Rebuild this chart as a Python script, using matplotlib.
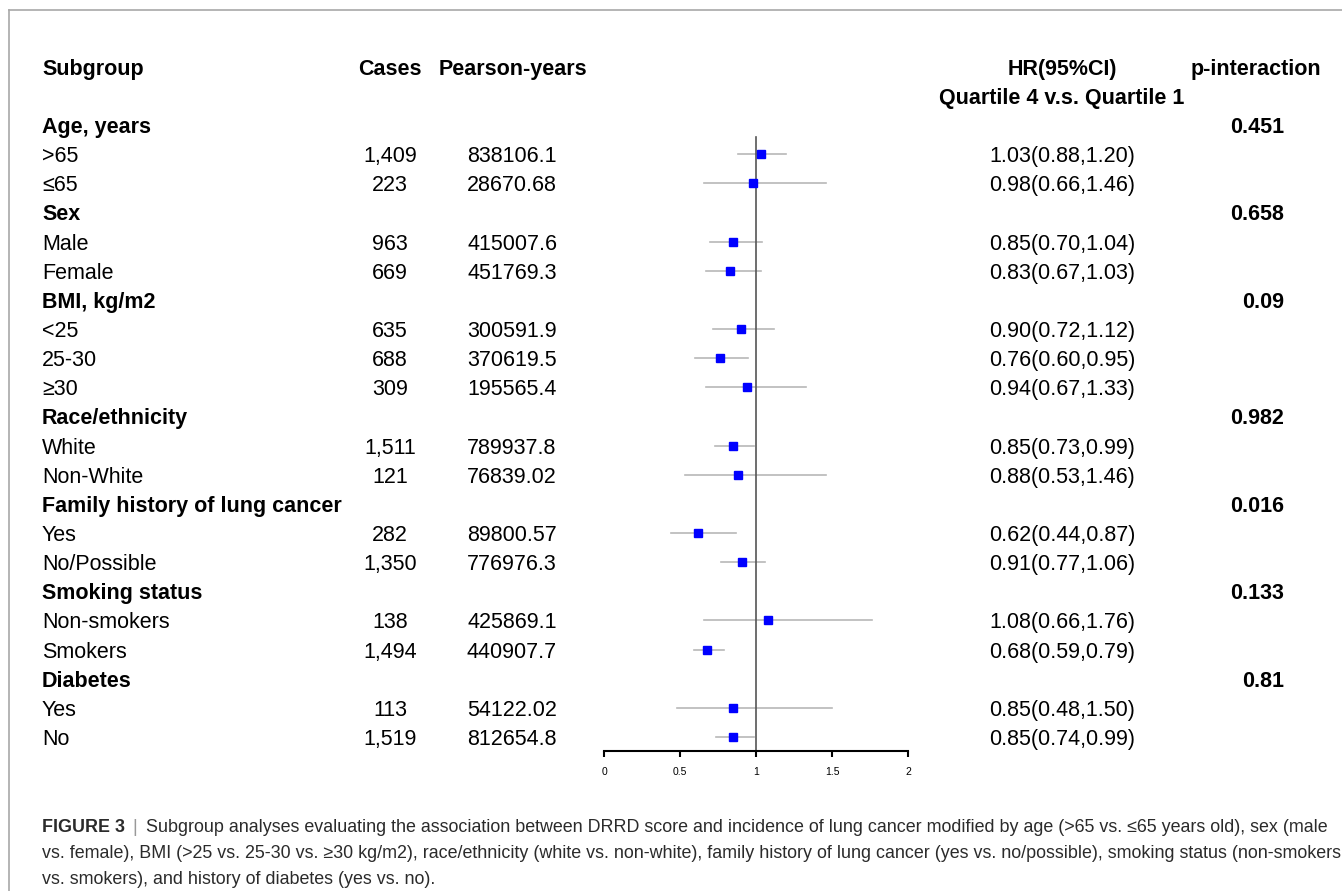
import matplotlib
matplotlib.use("Agg")
import matplotlib.pyplot as plt
from matplotlib.lines import Line2D
from matplotlib.transforms import blended_transform_factory

plt.rcParams['font.family'] = ['Liberation Sans', 'DejaVu Sans']

# table rows (group headers have no numbers)
labels = ["Age, years", ">65", "≤65",
          "Sex", "Male", "Female",
          "BMI, kg/m2", "<25", "25-30", "≥30",
          "Race/ethnicity", "White", "Non-White",
          "Family history of lung cancer", "Yes", "No/Possible",
          "Smoking status", "Non-smokers", "Smokers",
          "Diabetes", "Yes", "No"]
is_group = [True, False, False,
            True, False, False,
            True, False, False, False,
            True, False, False,
            True, False, False,
            True, False, False,
            True, False, False]
cases = ["", "1,409", "223",
         "", "963", "669",
         "", "635", "688", "309",
         "", "1,511", "121",
         "", "282", "1,350",
         "", "138", "1,494",
         "", "113", "1,519"]
person_years = ["", "838106.1", "28670.68",
                "", "415007.6", "451769.3",
                "", "300591.9", "370619.5", "195565.4",
                "", "789937.8", "76839.02",
                "", "89800.57", "776976.3",
                "", "425869.1", "440907.7",
                "", "54122.02", "812654.8"]
hr = [None, 1.03, 0.98,
      None, 0.85, 0.83,
      None, 0.90, 0.76, 0.94,
      None, 0.85, 0.88,
      None, 0.62, 0.91,
      None, 1.08, 0.68,
      None, 0.85, 0.85]
lo = [None, 0.88, 0.66,
      None, 0.70, 0.67,
      None, 0.72, 0.60, 0.67,
      None, 0.73, 0.53,
      None, 0.44, 0.77,
      None, 0.66, 0.59,
      None, 0.48, 0.74]
hi = [None, 1.20, 1.46,
      None, 1.04, 1.03,
      None, 1.12, 0.95, 1.33,
      None, 0.99, 1.46,
      None, 0.87, 1.06,
      None, 1.76, 0.79,
      None, 1.50, 0.99]
p_interaction = ["0.451", "", "",
                 "0.658", "", "",
                 "0.09", "", "", "",
                 "0.982", "", "",
                 "0.016", "", "",
                 "0.133", "", "",
                 "0.81", "", ""]
x_ticks = [0, 0.5, 1, 1.5, 2]

caption_lines = [
    "Subgroup analyses evaluating the association between DRRD score and incidence of lung cancer modified by age (>65 vs. ≤65 years old), sex (male",
    "vs. female), BMI (>25 vs. 25-30 vs. ≥30 kg/m2), race/ethnicity (white vs. non-white), family history of lung cancer (yes vs. no/possible), smoking status (non-smokers",
    "vs. smokers), and history of diabetes (yes vs. no).",
]

W, H = 1342, 891
fig = plt.figure(figsize=(W / 100, H / 100), dpi=100)

row0_px, row_h = 125, 29.14
axis_px = 751
top_row = -2.5
ax_bottom = 1 - axis_px / H
ax_top = 1 - (row0_px + top_row * row_h) / H
ax = fig.add_axes([604 / W, ax_bottom, (908 - 604) / W, ax_top - ax_bottom])
ax.set_xlim(0, 2)
ax.set_ylim((axis_px - row0_px) / row_h, top_row)
for s in ["top", "left", "right"]:
    ax.spines[s].set_visible(False)
ax.spines["bottom"].set_linewidth(1.5)
ax.set_yticks([])
ax.set_xticks(x_ticks)
ax.set_xticklabels([str(t) for t in x_ticks])
ax.tick_params(axis="x", length=4.5, width=1.5, pad=7, labelsize=7.5)
ax.patch.set_visible(False)

# reference line
ax.plot([1, 1], [0.4, (axis_px - row0_px) / row_h], color="#555555", lw=1.2, zorder=2)

rows = list(range(len(labels)))
for i in rows:
    if hr[i] is None:
        continue
    ax.plot([lo[i], hi[i]], [i, i], color="#b8b8b8", lw=1.2, zorder=1, clip_on=False)
    ax.plot(hr[i], i, marker="s", ms=6, color="#0000ff", mec="#0000ff", zorder=3, clip_on=False)

tr = blended_transform_factory(fig.transFigure, ax.transData)
fs = 15.5
va = "center_baseline"

def fx(px):
    return px / W

# headers
ax.text(fx(42), -2, "Subgroup", transform=tr, fontsize=fs, fontweight="bold", va=va, ha="left")
ax.text(fx(390), -2, "Cases", transform=tr, fontsize=fs, fontweight="bold", va=va, ha="center")
ax.text(fx(513), -2, "Pearson-years", transform=tr, fontsize=fs, fontweight="bold", va=va, ha="center")
ax.text(fx(1062), -2, "HR(95%CI)", transform=tr, fontsize=fs, fontweight="bold", va=va, ha="center")
ax.text(fx(1062), -1, "Quartile 4 v.s. Quartile 1", transform=tr, fontsize=fs, fontweight="bold", va=va, ha="center")
ax.text(fx(1256), -2, "p-interaction", transform=tr, fontsize=fs, fontweight="bold", va=va, ha="center")

for i in rows:
    ax.text(fx(42), i, labels[i], transform=tr, fontsize=fs, va=va, ha="left",
            fontweight="bold" if is_group[i] else "normal")
    if cases[i]:
        ax.text(fx(390), i, cases[i], transform=tr, fontsize=fs, va=va, ha="center")
        ax.text(fx(512), i, person_years[i], transform=tr, fontsize=fs, va=va, ha="center")
    if hr[i] is not None:
        ax.text(fx(1062), i, f"{hr[i]:.2f}({lo[i]:.2f},{hi[i]:.2f})", transform=tr,
                fontsize=fs, va=va, ha="center")
    if p_interaction[i]:
        ax.text(fx(1284), i, p_interaction[i], transform=tr, fontsize=fs, fontweight="bold",
                va=va, ha="right")

# frame lines (left and top)
fig.add_artist(Line2D([fx(9), fx(9)], [0, 1 - 10 / H], color="#a8a8a8", lw=1.2))
fig.add_artist(Line2D([fx(9), 1], [1 - 10 / H, 1 - 10 / H], color="#a8a8a8", lw=1.2))

# caption
cap_fs = 12.9
cap_col = "#2b2b2b"
cap_y = [828, 854, 880]
t0 = fig.text(fx(42), 1 - cap_y[0] / H, "FIGURE 3", fontsize=cap_fs, fontweight="bold",
              color=cap_col, va="center", ha="left")
ax.annotate("|", xy=(1, 0.5), xycoords=t0, xytext=(5, 0), textcoords="offset points",
            fontsize=cap_fs, color="#999999", va="center", ha="left")
ax.annotate(caption_lines[0], xy=(1, 0.5), xycoords=t0, xytext=(15, 0), textcoords="offset points",
            fontsize=cap_fs, color=cap_col, va="center", ha="left")
for k in (1, 2):
    fig.text(fx(42), 1 - cap_y[k] / H, caption_lines[k], fontsize=cap_fs, color=cap_col,
             va="center", ha="left")

fig.savefig("out.png", dpi=100)
